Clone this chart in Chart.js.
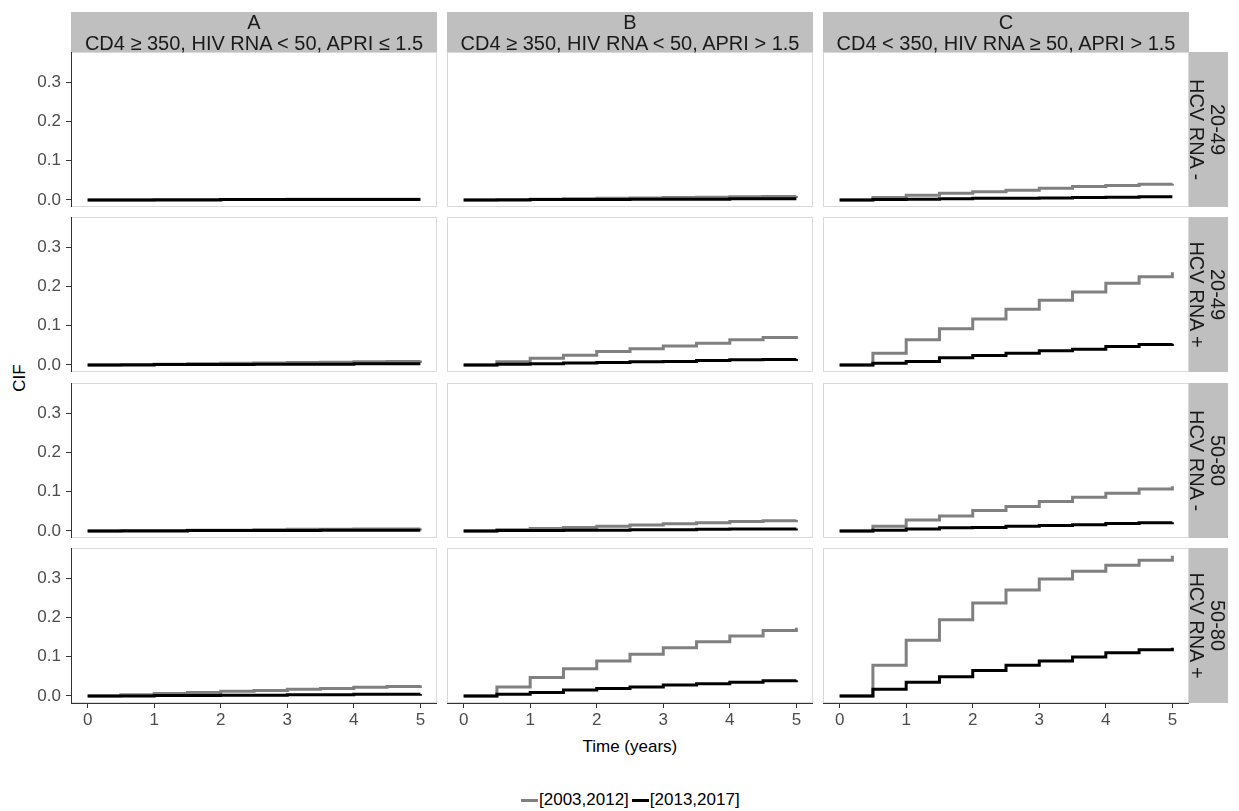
<!DOCTYPE html>
<html lang="en">
<head>
<meta charset="UTF-8">
<title>CIF by period</title>
<script src="https://cdn.jsdelivr.net/npm/chart.js"></script>
<style>
    body { margin: 0; background: #fff; font-family: "Liberation Sans", Arial, sans-serif; }
    #wrap { position: relative; width: 1239px; height: 811px; overflow: hidden; }
    canvas { position: absolute; }
    .strip { position: absolute; background: #bfbfbf; color: #1a1a1a; font-size: 20px; line-height: 21px; text-align: center; white-space: pre; overflow: visible; }
    .strip .txt { position: absolute; text-align: center; }
    .title { position: absolute; font-size: 17px; color: #000; white-space: nowrap; }
    #legend { position: absolute; left: 521px; top: 790px; height: 20px; display: flex; align-items: center; font-size: 17px; color: #000; }
    #legend .sw { display: inline-block; width: 17px; height: 3px; margin-right: 1px; }
</style>
</head>
<body>
<div id="wrap">
    <div class="title" style="left:6px; top:368px; transform: rotate(-90deg);">CIF</div>
    <div class="title" id="xTitle" style="top:737px;">Time (years)</div>
    <div id="legend"></div>
</div>

<script>
    // time points (years) where the CIF steps
    const times = [0, 0.5, 1, 1.5, 2, 2.5, 3, 3.5, 4, 4.5, 5];
    const xTicks = [0, 1, 2, 3, 4, 5];
    const yTicks = [0, 0.1, 0.2, 0.3];

    const colKeys = ['A', 'B', 'C'];
    const colTitles = [
        'CD4 ≥ 350, HIV RNA < 50, APRI ≤ 1.5',
        'CD4 ≥ 350, HIV RNA < 50, APRI > 1.5',
        'CD4 < 350, HIV RNA ≥ 50, APRI > 1.5'
    ];
    const rowAges = ['20-49', '20-49', '50-80', '50-80'];
    const rowHcv = ['HCV RNA -', 'HCV RNA +', 'HCV RNA -', 'HCV RNA +'];
    const periods = ['[2003,2012]', '[2013,2017]'];

    // CIF, period [2003,2012]  (column A/B/C, row 1..4)
    const early_A1 = [0, 0.000, 0.001, 0.001, 0.001, 0.001, 0.002, 0.002, 0.002, 0.002, 0.002];
    const early_A2 = [0, 0.001, 0.002, 0.003, 0.004, 0.005, 0.006, 0.007, 0.008, 0.009, 0.011];
    const early_A3 = [0, 0.001, 0.001, 0.002, 0.002, 0.003, 0.004, 0.004, 0.005, 0.005, 0.006];
    const early_A4 = [0, 0.003, 0.006, 0.009, 0.012, 0.014, 0.017, 0.019, 0.022, 0.024, 0.027];
    const early_B1 = [0, 0.001, 0.002, 0.003, 0.004, 0.005, 0.006, 0.007, 0.008, 0.009, 0.010];
    const early_B2 = [0, 0.008, 0.017, 0.025, 0.034, 0.041, 0.048, 0.055, 0.064, 0.070, 0.074];
    const early_B3 = [0, 0.003, 0.006, 0.009, 0.012, 0.015, 0.018, 0.021, 0.024, 0.026, 0.028];
    const early_B4 = [0, 0.023, 0.047, 0.069, 0.089, 0.106, 0.123, 0.138, 0.153, 0.167, 0.174];
    const early_C1 = [0, 0.006, 0.012, 0.017, 0.021, 0.025, 0.030, 0.034, 0.037, 0.040, 0.041];
    const early_C2 = [0, 0.030, 0.064, 0.092, 0.117, 0.142, 0.165, 0.186, 0.208, 0.225, 0.236];
    const early_C3 = [0, 0.012, 0.028, 0.038, 0.052, 0.062, 0.075, 0.086, 0.096, 0.107, 0.114];
    const early_C4 = [0, 0.078, 0.142, 0.194, 0.237, 0.270, 0.298, 0.318, 0.333, 0.346, 0.357];

    // CIF, period [2013,2017]
    const late_A1 = [0, 0.000, 0.000, 0.000, 0.001, 0.001, 0.001, 0.001, 0.001, 0.001, 0.001];
    const late_A2 = [0, 0.000, 0.001, 0.001, 0.001, 0.002, 0.002, 0.002, 0.003, 0.003, 0.003];
    const late_A3 = [0, 0.000, 0.000, 0.001, 0.001, 0.001, 0.001, 0.002, 0.002, 0.002, 0.002];
    const late_A4 = [0, 0.000, 0.001, 0.001, 0.002, 0.002, 0.003, 0.003, 0.004, 0.004, 0.005];
    const late_B1 = [0, 0.000, 0.001, 0.001, 0.001, 0.002, 0.002, 0.002, 0.003, 0.003, 0.003];
    const late_B2 = [0, 0.002, 0.003, 0.005, 0.006, 0.008, 0.009, 0.011, 0.013, 0.014, 0.015];
    const late_B3 = [0, 0.001, 0.001, 0.002, 0.002, 0.003, 0.003, 0.004, 0.005, 0.005, 0.006];
    const late_B4 = [0, 0.004, 0.009, 0.015, 0.019, 0.023, 0.028, 0.031, 0.035, 0.039, 0.040];
    const late_C1 = [0, 0.001, 0.002, 0.003, 0.004, 0.004, 0.005, 0.006, 0.007, 0.008, 0.008];
    const late_C2 = [0, 0.004, 0.009, 0.018, 0.024, 0.030, 0.036, 0.040, 0.047, 0.052, 0.054];
    const late_C3 = [0, 0.002, 0.005, 0.008, 0.009, 0.012, 0.014, 0.016, 0.019, 0.021, 0.022];
    const late_C4 = [0, 0.017, 0.035, 0.049, 0.065, 0.078, 0.089, 0.099, 0.110, 0.118, 0.123];

    const earlyCif = [
        [early_A1, early_A2, early_A3, early_A4],
        [early_B1, early_B2, early_B3, early_B4],
        [early_C1, early_C2, early_C3, early_C4]
    ];
    const lateCif = [
        [late_A1, late_A2, late_A3, late_A4],
        [late_B1, late_B2, late_B3, late_B4],
        [late_C1, late_C2, late_C3, late_C4]
    ];

    // facet layout (px)
    const colLeft = [71, 447, 823];
    const panelW = 366;
    const rowTop = [52, 217, 383, 548];
    const panelH = 155;
    const yAxisW = 71;
    const xAxisH = 44;
    const stripH = 40;
    const stripW = 39;

    const wrap = document.getElementById('wrap');
    const tickFont = { family: '"Liberation Sans", Arial, sans-serif', size: 17 };
    const tickColor = '#4d4d4d';
    const axisColor = '#333333';

    // light grey border round each panel (drawn before the axis lines)
    const panelFrame = {
        id: 'panelFrame',
        beforeDraw(chart) {
            const { ctx, chartArea: a } = chart;
            ctx.save();
            ctx.strokeStyle = '#d9d9d9';
            ctx.lineWidth = 1;
            ctx.strokeRect(a.left + 0.5, a.top + 0.5, a.width - 1, a.height - 1);
            ctx.restore();
        }
    };

    const toPoints = arr => arr.map((v, i) => ({ x: times[i], y: v }));

    function makePanel(c, r) {
        const showY = c === 0;
        const showX = r === 3;
        const w = panelW + (showY ? yAxisW : 0);
        const h = panelH + (showX ? xAxisH : 0);
        const cv = document.createElement('canvas');
        cv.width = w;
        cv.height = h;
        cv.style.width = w + 'px';
        cv.style.height = h + 'px';
        cv.style.left = (colLeft[c] - (showY ? yAxisW : 0)) + 'px';
        cv.style.top = rowTop[r] + 'px';
        wrap.appendChild(cv);

        new Chart(cv, {
            type: 'line',
            data: {
                datasets: [
                    {
                        label: periods[0],
                        data: toPoints(earlyCif[c][r]),
                        borderColor: '#808080',
                        order: 1
                    },
                    {
                        label: periods[1],
                        data: toPoints(lateCif[c][r]),
                        borderColor: '#000000',
                        order: 0
                    }
                ]
            },
            options: {
                responsive: false,
                animation: false,
                devicePixelRatio: 1,
                layout: { padding: 0 },
                plugins: { legend: { display: false }, tooltip: { enabled: false } },
                elements: {
                    point: { radius: 0 },
                    line: { borderWidth: 3, stepped: true, fill: false, borderCapStyle: 'butt' }
                },
                scales: {
                    x: {
                        type: 'linear',
                        min: -0.25,
                        max: 5.25,
                        display: showX,
                        afterBuildTicks: s => { s.ticks = xTicks.map(v => ({ value: v })); },
                        afterFit: s => {
                            if (showX) s.height = xAxisH;
                            s.paddingLeft = 0;
                            s.paddingRight = 0;
                        },
                        grid: { display: true, drawOnChartArea: false, drawTicks: true, tickLength: 5, color: axisColor },
                        border: { display: true, color: axisColor, width: 1 },
                        ticks: { font: tickFont, color: tickColor, padding: 2, maxRotation: 0 }
                    },
                    y: {
                        type: 'linear',
                        min: -0.018,
                        max: 0.377,
                        display: showY,
                        afterBuildTicks: s => { s.ticks = yTicks.map(v => ({ value: v })); },
                        afterFit: s => {
                            if (showY) s.width = yAxisW;
                            s.paddingTop = 0;
                            s.paddingBottom = 0;
                        },
                        grid: { display: true, drawOnChartArea: false, drawTicks: true, tickLength: 5, color: axisColor },
                        border: { display: true, color: axisColor, width: 1 },
                        ticks: { font: tickFont, color: tickColor, padding: 5, callback: v => v.toFixed(1) }
                    }
                }
            },
            plugins: [panelFrame]
        });
    }

    for (let c = 0; c < 3; c++) {
        for (let r = 0; r < 4; r++) makePanel(c, r);
    }

    // column strips
    colKeys.forEach((k, c) => {
        const s = document.createElement('div');
        s.className = 'strip';
        s.style.left = colLeft[c] + 'px';
        s.style.top = (rowTop[0] - stripH) + 'px';
        s.style.width = panelW + 'px';
        s.style.height = stripH + 'px';
        const t = document.createElement('div');
        t.className = 'txt';
        t.style.left = '0px';
        t.style.top = '0px';
        t.style.width = panelW + 'px';
        t.textContent = k + '\n' + colTitles[c];
        s.appendChild(t);
        wrap.appendChild(s);
    });

    // row strips (text turned 90 degrees clockwise)
    rowAges.forEach((age, r) => {
        const s = document.createElement('div');
        s.className = 'strip';
        s.style.left = (colLeft[2] + panelW) + 'px';
        s.style.top = rowTop[r] + 'px';
        s.style.width = stripW + 'px';
        s.style.height = panelH + 'px';
        const t = document.createElement('div');
        t.className = 'txt';
        t.style.width = panelH + 'px';
        t.style.height = stripW + 'px';
        t.style.left = ((stripW - panelH) / 2) + 'px';
        t.style.top = ((panelH - stripW) / 2) + 'px';
        t.style.transform = 'rotate(90deg)';
        t.textContent = age + '\n' + rowHcv[r];
        s.appendChild(t);
        wrap.appendChild(s);
    });

    // x title centred under the panels
    const xTitle = document.getElementById('xTitle');
    xTitle.style.left = ((colLeft[0] + colLeft[2] + panelW) / 2 - xTitle.offsetWidth / 2) + 'px';

    // legend
    const legend = document.getElementById('legend');
    const swColors = ['#808080', '#000000'];
    periods.forEach((p, i) => {
        const sw = document.createElement('span');
        sw.className = 'sw';
        sw.style.background = swColors[i];
        if (i > 0) sw.style.marginLeft = '3px';
        const t = document.createElement('span');
        t.textContent = p;
        legend.appendChild(sw);
        legend.appendChild(t);
    });
</script>
</body>
</html>
